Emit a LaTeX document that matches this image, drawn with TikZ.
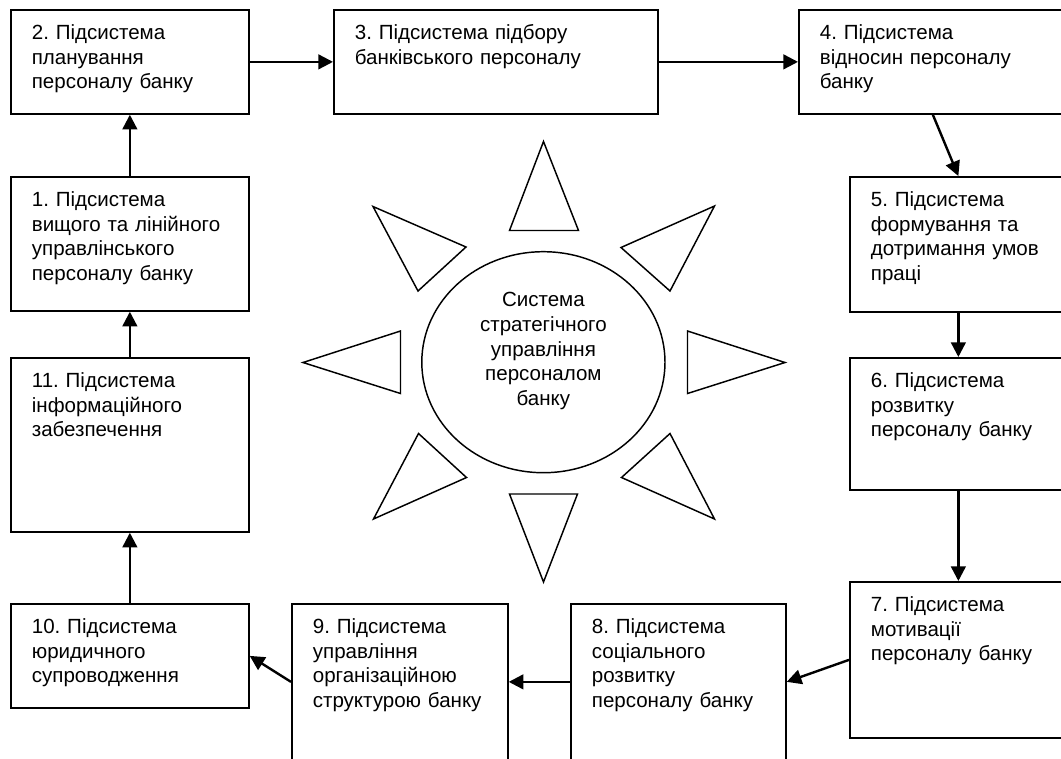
\documentclass[tikz,border=0pt]{standalone}
\usepackage{fontspec}
\setmainfont{Liberation Sans}
\usetikzlibrary{arrows.meta,shapes.geometric}
\frenchspacing

\tikzset{
  subsys/.style 2 args={draw, line width=1.3pt, anchor=north west, align=left,
    inner xsep=15.75pt, inner ysep=0pt,
    text width={#1*0.75pt-31.5pt}, text height=22.5pt, text depth={#2*0.75pt-22.5pt},
    font=\fontsize{15.4pt}{18.4pt}\selectfont},
  link/.style={line width=1.8pt, -{Triangle[length=11pt,width=11pt]}},
  ray/.style={line width=1.1pt},
  core/.style={draw, ellipse, line width=1.1pt, minimum width=182.4pt, minimum height=165.75pt},
  coretext/.style={align=center, font=\fontsize{15.4pt}{18.4pt}\selectfont},
}

\begin{document}
\begin{tikzpicture}[x=0.75pt, y=-0.75pt]
  \useasboundingbox (0,0) rectangle (1061,758);
  \clip (0,0) rectangle (1061,758);
  % top row
  \node[subsys={238}{104}] at (10,9) (b2) {2. Підсистема\\планування\\персоналу банку};
  \node[subsys={324}{104}] at (333,9) (b3) {3. Підсистема підбору\\банківського персоналу};
  \node[subsys={268}{104}] at (798,9) (b4) {4. Підсистема\\відносин персоналу\\банку};
  % right column
  \node[subsys={217}{135}] at (849,176) (b5) {5. Підсистема\\формування та\\дотримання умов\\праці};
  \node[subsys={217}{132}] at (849,357) (b6) {6. Підсистема\\розвитку\\персоналу банку};
  \node[subsys={217}{156}] at (849,581) (b7) {7. Підсистема\\мотивації\\персоналу банку};
  % bottom row
  \node[subsys={215}{156}] at (570,603) (b8) {8. Підсистема\\соціального\\розвитку\\персоналу банку};
  \node[subsys={216}{156}] at (291,603) (b9) {9. Підсистема\\управління\\організаційною\\структурою банку};
  \node[subsys={238}{104}] at (10,603) (b10) {10. Підсистема\\юридичного\\супроводження};
  % left column
  \node[subsys={238}{174}] at (10,357) (b11) {11. Підсистема\\інформаційного\\забезпечення};
  \node[subsys={238}{134}] at (10,176) (b1) {1. Підсистема\\вищого та лінійного\\управлінського\\персоналу банку};
  % centre
  \node[core] at (543.4,362.2) (core) {};
  \node[coretext] at (543.4,351) (coretext) {Система\\стратегічного\\управління\\персоналом\\банку};
  % rays
  \draw[ray] (543.5,141.5) -- (578.5,230.5) -- (509.5,230.5) -- cycle;
  \draw[ray] (714.5,206) -- (670,291) -- (621,247.5) -- cycle;
  \draw[ray] (785,362.5) -- (687.5,393.5) -- (687.5,331) -- cycle;
  \draw[ray] (714.5,519) -- (621.5,477.5) -- (670,433.5) -- cycle;
  \draw[ray] (543.5,582) -- (509.5,494) -- (577.5,494) -- cycle;
  \draw[ray] (373.5,519) -- (418.5,433.5) -- (466.5,477.5) -- cycle;
  \draw[ray] (303,362.5) -- (400.5,331) -- (400.5,393.5) -- cycle;
  \draw[ray] (373,206.5) -- (466,247) -- (418,291) -- cycle;
  % links
  \draw[link] (b1) -- (b2);
  \draw[link] (b2) -- (b3);
  \draw[link] (b3) -- (b4);
  \draw[link] (b4.south) -- (b5.north);
  \draw[link] (b5) -- (b6);
  \draw[link] (b6) -- (b7);
  \draw[link] (b7.west) -- (b8.east);
  \draw[link] (b8) -- (b9);
  \draw[link] (b9.west) -- (b10.east);
  \draw[link] (b10) -- (b11);
  \draw[link] (b11) -- (b1);
\end{tikzpicture}
\end{document}
